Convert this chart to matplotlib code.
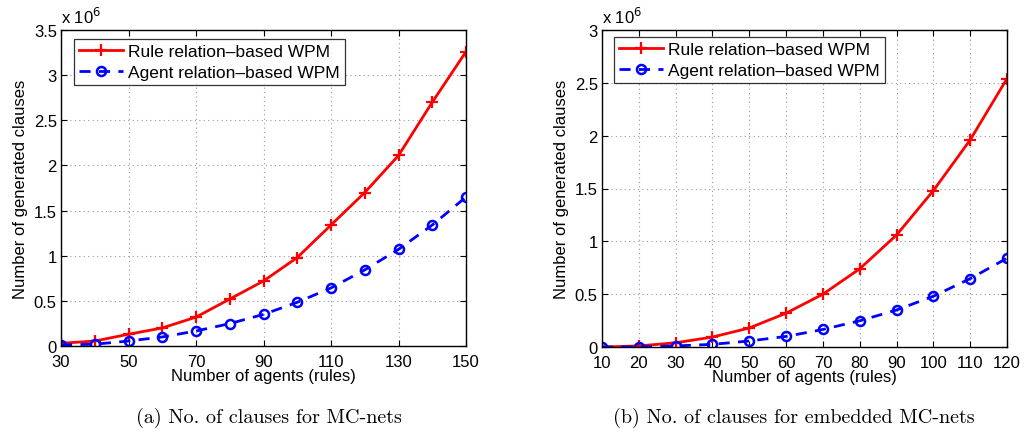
import matplotlib
matplotlib.use("Agg")
import matplotlib.pyplot as plt
import numpy as np

plt.rcParams['font.family'] = ['Liberation Sans', 'DejaVu Sans']

# Panel (a): MC-nets
agents_a = [30, 40, 50, 60, 70, 80, 90, 100, 110, 120, 130, 140, 150]
rule_a = [0.03, 0.055, 0.13, 0.20, 0.32, 0.52, 0.72, 0.98, 1.34, 1.70, 2.11, 2.70, 3.26]
agent_a = [0.01, 0.02, 0.055, 0.10, 0.166, 0.248, 0.35, 0.484, 0.643, 0.843, 1.07, 1.34, 1.65]

# Panel (b): embedded MC-nets
agents_b = [10, 20, 30, 40, 50, 60, 70, 80, 90, 100, 110, 120]
rule_b = [0.0, 0.01, 0.04, 0.094, 0.18, 0.32, 0.50, 0.74, 1.06, 1.48, 1.96, 2.54]
agent_b = [0.0, 0.001, 0.01, 0.025, 0.057, 0.10, 0.166, 0.248, 0.35, 0.48, 0.647, 0.84]

xticks_a = [30, 50, 70, 90, 110, 130, 150]
yticks_a = [0, 0.5, 1, 1.5, 2, 2.5, 3, 3.5]
xticks_b = [10, 20, 30, 40, 50, 60, 70, 80, 90, 100, 110, 120]
yticks_b = [0, 0.5, 1, 1.5, 2, 2.5, 3]

labels = ["Rule relation\u2013based WPM", "Agent relation\u2013based WPM"]
captions = ["(a) No. of clauses for MC-nets", "(b) No. of clauses for embedded MC-nets"]

W, H = 1027, 439
fig = plt.figure(figsize=(W / 100, H / 100), dpi=100)
FS = 12

def fmt(v):
    return "%g" % v

def panel(rect, x, r, a, xt, yt, xlim, ylim, legrect, cap, capx):
    l, t, rr, b = rect
    ax = fig.add_axes([l / W, 1 - b / H, (rr - l) / W, (b - t) / H])
    ax.plot(x, r, '-', color='#ff0000', lw=2.0, marker='+', ms=8, mew=1.6, label=labels[0])
    ax.plot(x, a, '--', color='#0000ff', lw=2.0, marker='o', ms=6.5, mew=1.8,
            mfc='none', dashes=(4, 3), label=labels[1])
    ax.set_xlim(*xlim)
    ax.set_ylim(*ylim)
    ax.set_xticks(xt)
    ax.set_yticks(yt)
    ax.set_xticklabels([fmt(v) for v in xt], fontsize=FS)
    ax.set_yticklabels([fmt(v) for v in yt], fontsize=FS)
    ax.tick_params(direction='in', length=4, width=0.8, top=True, right=True)
    ax.tick_params(axis='x', pad=6)
    ax.tick_params(axis='y', pad=3)
    ax.grid(True, linestyle=(0, (1, 3)), color='#9a9a9a', lw=0.8)
    for s in ax.spines.values():
        s.set_linewidth(1.0)
    ax.set_xlabel("Number of agents (rules)", fontsize=FS, labelpad=-1)
    ax.set_ylabel("Number of generated clauses", fontsize=FS, labelpad=4)
    ax.text(0.0, 1.012, "x 10$^{6}$", transform=ax.transAxes, fontsize=FS,
            ha='left', va='bottom')
    ll, lt, lr, lb = legrect
    leg = ax.legend(loc='upper left',
                    bbox_to_anchor=((ll - l) / (rr - l), 1 - (lt - t) / (b - t)),
                    fontsize=12.5, frameon=True, fancybox=False, edgecolor='black',
                    borderpad=0.3, handlelength=2.5, labelspacing=0.3,
                    handletextpad=0.3, borderaxespad=0)
    leg.get_frame().set_linewidth(0.9)
    fig.text(capx / W, 1 - 418 / H, cap, family='cmr10', fontsize=14.5,
             ha='center', va='center')
    return ax

panel((61, 31, 466, 347), agents_a, rule_a, agent_a, xticks_a, yticks_a,
      (30, 150), (0, 3.5), (74, 40, 339, 90), captions[0], 269)
panel((602, 31, 1007, 348), agents_b, rule_b, agent_b, xticks_b, yticks_b,
      (10, 120), (0, 3), (614, 38, 880, 89), captions[1], 794)

fig.savefig("out.png", dpi=100)
